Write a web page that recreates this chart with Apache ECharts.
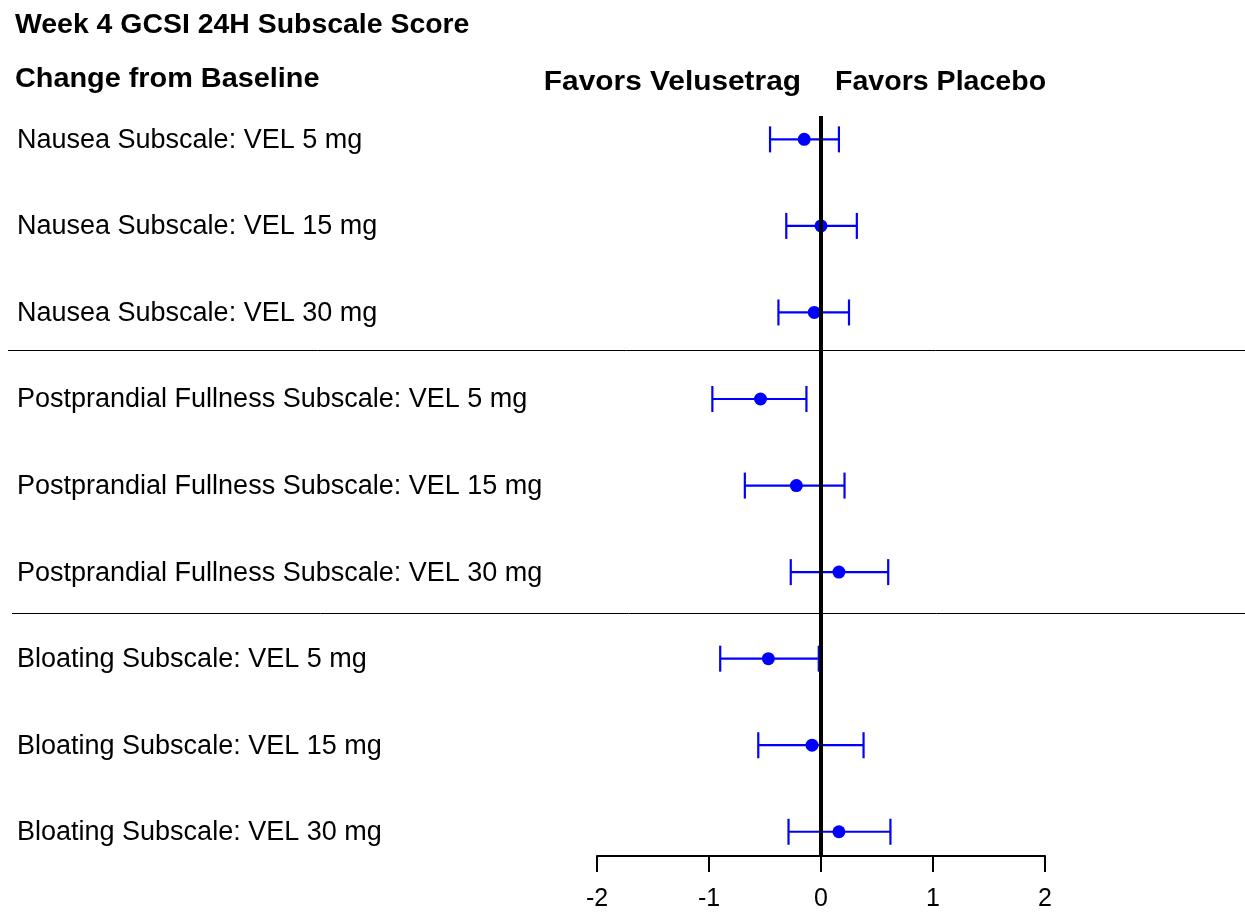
<!DOCTYPE html>
<html><head><meta charset="utf-8">
<script src="https://cdn.jsdelivr.net/npm/echarts@6/dist/echarts.min.js"></script>
<style>html,body{margin:0;padding:0;background:#fff}#c{width:1245px;height:912px}</style>
</head><body><div id="c"></div>
<script>
const rowLabels = [
  'Nausea Subscale: VEL 5 mg',
  'Nausea Subscale: VEL 15 mg',
  'Nausea Subscale: VEL 30 mg',
  'Postprandial Fullness Subscale: VEL 5 mg',
  'Postprandial Fullness Subscale: VEL 15 mg',
  'Postprandial Fullness Subscale: VEL 30 mg',
  'Bloating Subscale: VEL 5 mg',
  'Bloating Subscale: VEL 15 mg',
  'Bloating Subscale: VEL 30 mg'
];
const estimates = [-0.15, 0.00, -0.06, -0.54, -0.22, 0.16, -0.47, -0.08, 0.16];
const lowerCI   = [-0.455, -0.31, -0.38, -0.97, -0.68, -0.27, -0.90, -0.56, -0.29];
const upperCI   = [0.16, 0.32, 0.25, -0.13, 0.21, 0.60, -0.02, 0.38, 0.62];
const separators = [3.43, 6.475];
const xTicks = [-2, -1, 0, 1, 2];
const titleText = 'Week 4 GCSI 24H Subscale Score';
const subTitleText = 'Change from Baseline';
const favorsLeft = 'Favors Velusetrag';
const favorsRight = 'Favors Placebo';

const chart = echarts.init(document.getElementById('c'));
const FONT = '"Liberation Sans", Arial, sans-serif';
const BLUE = '#0000ff';

const ciData = rowLabels.map((_, i) => [lowerCI[i], upperCI[i], i + 1]);
const ptData = rowLabels.map((_, i) => [estimates[i], i + 1]);
const labelData = rowLabels.map((l, i) => [0, i + 1, l]);
const boldFont = 'bold 28px ' + FONT;

chart.setOption({
  animation: false,
  grid: { left: 597, right: 200, top: 116, bottom: 55 },
  xAxis: {
    type: 'value', min: xTicks[0], max: xTicks[xTicks.length - 1], interval: 1,
    splitLine: { show: false },
    axisLine: { show: true, lineStyle: { color: '#000', width: 2 } },
    axisTick: { show: true, length: 16, lineStyle: { color: '#000', width: 2 } },
    axisLabel: { color: '#000', fontSize: 25, fontFamily: FONT, margin: 31 }
  },
  yAxis: {
    type: 'value', inverse: true, min: 0.73, max: 9.28,
    show: false
  },
  graphic: [
    { type: 'text', x: 15, y: 25, scaleX: 1.015, style: { text: titleText, font: boldFont, fill: '#000', verticalAlign: 'middle' } },
    { type: 'text', x: 15, y: 79, scaleX: 1.03, style: { text: subTitleText, font: boldFont, fill: '#000', verticalAlign: 'middle' } },
    { type: 'text', x: 801, y: 82, scaleX: 1.066, style: { text: favorsLeft, font: boldFont, fill: '#000', align: 'right', verticalAlign: 'middle' } },
    { type: 'text', x: 835, y: 82, scaleX: 1.02, style: { text: favorsRight, font: boldFont, fill: '#000', verticalAlign: 'middle' } }
  ],
  series: [
    {
      type: 'custom', data: labelData, silent: true,
      renderItem: (params, api) => {
        const p = api.coord([0, api.value(1)]);
        return { type: 'text', x: 17, y: p[1] + 1, style: { text: rowLabels[params.dataIndex], font: '27px ' + FONT, fill: '#000', verticalAlign: 'middle' } };
      }
    },
    {
      type: 'custom', data: separators.map(v => [0, v]), silent: true,
      renderItem: (params, api) => {
        const p = api.coord([0, api.value(1)]);
        const y = Math.round(p[1]) + 0.5;
        const x0 = params.dataIndex === 0 ? 8 : 12;
        return { type: 'line', shape: { x1: x0, y1: y, x2: api.getWidth(), y2: y }, style: { stroke: '#000', lineWidth: 1 } };
      }
    },
    {
      type: 'custom', data: ciData, silent: true, z: 3,
      renderItem: (params, api) => {
        const a = api.coord([api.value(0), api.value(2)]);
        const b = api.coord([api.value(1), api.value(2)]);
        const h = 13;
        const st = { stroke: BLUE, lineWidth: 2.2 };
        return { type: 'group', children: [
          { type: 'line', shape: { x1: a[0], y1: a[1], x2: b[0], y2: b[1] }, style: st },
          { type: 'line', shape: { x1: a[0], y1: a[1] - h, x2: a[0], y2: a[1] + h }, style: st },
          { type: 'line', shape: { x1: b[0], y1: b[1] - h, x2: b[0], y2: b[1] + h }, style: st }
        ]};
      }
    },
    {
      type: 'scatter', data: ptData, symbol: 'circle', symbolSize: 13, z: 4,
      itemStyle: { color: BLUE, opacity: 1 },
      markLine: {
        silent: true, symbol: 'none', label: { show: false },
        lineStyle: { color: '#000', width: 4, type: 'solid', opacity: 1 },
        data: [{ xAxis: 0 }]
      }
    }
  ]
});
</script></body></html>
